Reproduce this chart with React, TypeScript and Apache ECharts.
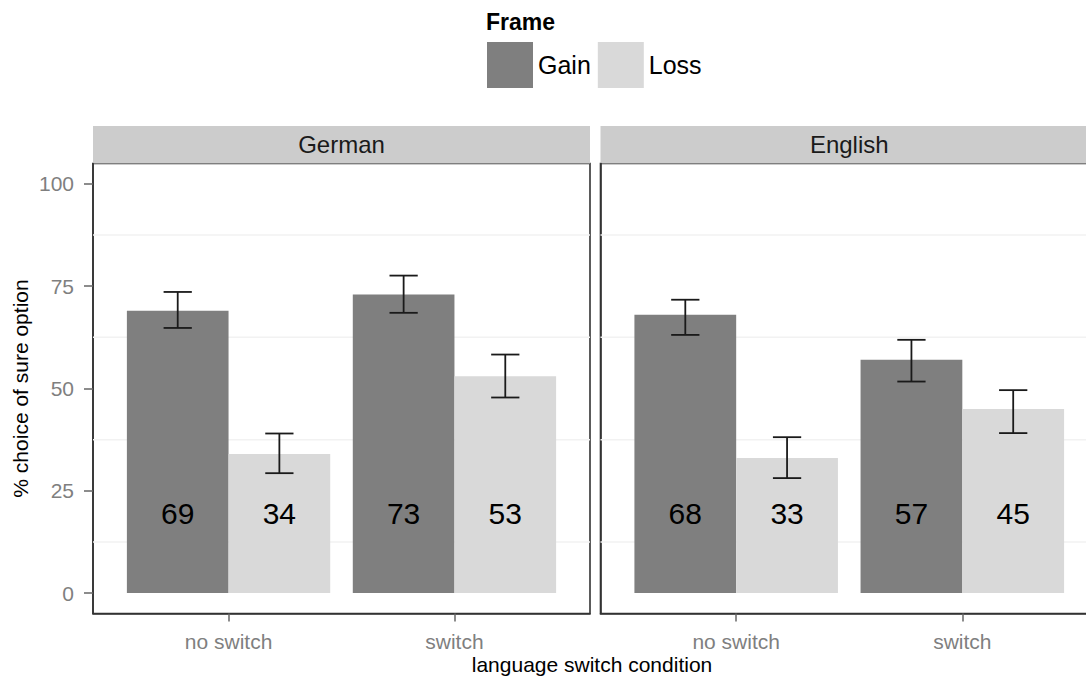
import React, { useEffect, useRef } from "react";
import * as echarts from "echarts";

// Conditions on the x axis and the two frames
const categories = ["no switch", "switch"];
const frames = ["Gain", "Loss"];
const panels = ["German", "English"];

// % choice of sure option, per panel and frame
const germanGain = [69, 73];
const germanLoss = [34, 53];
const englishGain = [68, 57];
const englishLoss = [33, 45];

// Error bar limits [low, high]
const germanGainErr = [[64.8, 73.6], [68.5, 77.6]];
const germanLossErr = [[29.3, 39.0], [47.8, 58.3]];
const englishGainErr = [[63.1, 71.7], [51.7, 61.9]];
const englishLossErr = [[28.1, 38.1], [39.1, 49.6]];

// Y axis ticks and minor grid lines
const yTicks = [0, 25, 50, 75, 100];
const yMinorGrid = [12.5, 37.5, 62.5, 87.5];

const FONT = "'Liberation Sans', Arial, sans-serif";
const GAIN_COLOR = "#7F7F7F";
const LOSS_COLOR = "#D9D9D9";
const BAR_W = 0.45; // dodge width 0.9 split in two
const CAP_W = 0.125;
const LABEL_Y = 19.5;
const X_POS = categories.map((_, i) => i + 1);

function barSeries(name: string, values: number[], offset: number, color: string, gridIdx: number) {
  return {
    type: "custom",
    name,
    xAxisIndex: gridIdx,
    yAxisIndex: gridIdx,
    z: 3,
    itemStyle: { color },
    data: values.map((v, i) => [X_POS[i], v]),
    renderItem: (_p: any, api: any) => {
      const x = api.value(0) + offset;
      const y = api.value(1);
      const a = api.coord([x - BAR_W / 2, y]);
      const b = api.coord([x + BAR_W / 2, 0]);
      const c = api.coord([x, LABEL_Y]);
      return {
        type: "group",
        children: [
          {
            type: "rect",
            shape: { x: a[0], y: a[1], width: b[0] - a[0], height: b[1] - a[1] },
            style: { fill: color },
          },
          {
            type: "text",
            x: c[0],
            y: c[1],
            style: {
              text: String(y),
              align: "center",
              verticalAlign: "middle",
              fontSize: 30,
              fontFamily: FONT,
              fill: "#000000",
            },
          },
        ],
      };
    },
  };
}

function errorSeries(errs: number[][], offset: number, gridIdx: number) {
  return {
    type: "custom",
    xAxisIndex: gridIdx,
    yAxisIndex: gridIdx,
    z: 4,
    silent: true,
    data: errs.map((e, i) => [X_POS[i], e[0], e[1]]),
    renderItem: (_p: any, api: any) => {
      const x = api.value(0) + offset;
      const lo = api.coord([x, api.value(1)]);
      const hi = api.coord([x, api.value(2)]);
      const l = api.coord([x - CAP_W / 2, 0])[0];
      const r = api.coord([x + CAP_W / 2, 0])[0];
      const st = { stroke: "#1A1A1A", lineWidth: 1.8 };
      return {
        type: "group",
        children: [
          { type: "line", shape: { x1: lo[0], y1: lo[1], x2: hi[0], y2: hi[1] }, style: st },
          { type: "line", shape: { x1: l, y1: lo[1], x2: r, y2: lo[1] }, style: st },
          { type: "line", shape: { x1: l, y1: hi[1], x2: r, y2: hi[1] }, style: st },
        ],
      };
    },
  };
}

function gridLineSeries(gridIdx: number) {
  return {
    type: "custom",
    xAxisIndex: gridIdx,
    yAxisIndex: gridIdx,
    z: 1,
    silent: true,
    data: yMinorGrid.map((v) => [1.5, v]),
    renderItem: (_p: any, api: any) => {
      const a = api.coord([0.4, api.value(1)]);
      const b = api.coord([2.6, api.value(1)]);
      return {
        type: "line",
        shape: { x1: a[0], y1: a[1], x2: b[0], y2: b[1] },
        style: { stroke: "#F2F2F2", lineWidth: 1.5 },
      };
    },
  };
}

const PANEL_TOP = 163.5;
const PANEL_H = 450;
const PANEL_LEFT = [93, 600.5];
const PANEL_W = [497, 497.5];
const STRIP_TOP = 126;

export default function App() {
  const ref = useRef<HTMLDivElement>(null);

  useEffect(() => {
    if (!ref.current) return;
    const chart = echarts.init(ref.current, undefined, { renderer: "svg" });

    const xAxes = [0, 1].map((g) => ({
      type: "value",
      gridIndex: g,
      min: 0.4,
      max: 2.6,
      axisLine: { show: true, onZero: false, lineStyle: { color: "#333333", width: 1.6 } },
      splitLine: { show: false },
      axisTick: {
        show: true,
        customValues: X_POS,
        length: 8,
        lineStyle: { color: "#666666", width: 1.5 },
      },
      axisLabel: {
        customValues: X_POS,
        formatter: (v: number) => categories[Math.round(v) - 1] ?? "",
        color: "#7F7F7F",
        fontSize: 21,
        fontFamily: FONT,
        margin: 17,
      },
    }));

    const yAxes = [0, 1].map((g) => ({
      type: "value",
      gridIndex: g,
      min: -5,
      max: 105,
      axisLine: { show: true, onZero: false, lineStyle: { color: "#333333", width: 1.6 } },
      splitLine: { show: false },
      axisTick: {
        show: g === 0,
        customValues: yTicks,
        length: 9,
        lineStyle: { color: "#666666", width: 1.5 },
      },
      axisLabel: {
        show: g === 0,
        customValues: yTicks,
        color: "#7F7F7F",
        fontSize: 21,
        fontFamily: FONT,
        margin: 19,
      },
      name: g === 0 ? "% choice of sure option" : "",
      nameLocation: "middle",
      nameGap: 62,
      nameRotate: 90,
      nameTextStyle: { fontSize: 21, fontFamily: FONT, color: "#000000" },
    }));

    const strips: any[] = [];
    panels.forEach((p, i) => {
      strips.push({
        type: "rect",
        shape: { x: PANEL_LEFT[i], y: STRIP_TOP, width: PANEL_W[i], height: PANEL_TOP - STRIP_TOP },
        style: { fill: "#CCCCCC" },
      });
      strips.push({
        type: "text",
        x: PANEL_LEFT[i] + PANEL_W[i] / 2,
        y: (STRIP_TOP + PANEL_TOP) / 2,
        style: {
          text: p,
          align: "center",
          verticalAlign: "middle",
          fontSize: 24,
          fontFamily: FONT,
          fill: "#1A1A1A",
        },
      });
    });

    chart.setOption({
      animation: false,
      backgroundColor: "#FFFFFF",
      textStyle: { fontFamily: FONT },
      title: {
        text: "Frame",
        left: 486,
        top: 10,
        padding: 0,
        textStyle: { fontSize: 23, fontWeight: "bold", color: "#000000", fontFamily: FONT },
      },
      legend: {
        data: frames,
        left: 487,
        top: 42,
        padding: 0,
        itemWidth: 46,
        itemHeight: 46,
        itemGap: 7,
        icon: "rect",
        selectedMode: false,
        textStyle: { fontSize: 25, color: "#000000", fontFamily: FONT },
      },
      grid: [0, 1].map((g) => ({
        left: PANEL_LEFT[g],
        top: PANEL_TOP,
        width: PANEL_W[g],
        height: PANEL_H,
        show: true,
        backgroundColor: "#FFFFFF",
        borderColor: "#333333",
        borderWidth: 1.6,
      })),
      xAxis: xAxes,
      yAxis: yAxes,
      graphic: [
        ...strips,
        {
          type: "text",
          x: 592,
          y: 664,
          style: {
            text: "language switch condition",
            align: "center",
            verticalAlign: "middle",
            fontSize: 21,
            fontFamily: FONT,
            fill: "#000000",
          },
        },
      ],
      series: [
        gridLineSeries(0),
        gridLineSeries(1),
        barSeries(frames[0], germanGain, -BAR_W / 2, GAIN_COLOR, 0),
        barSeries(frames[1], germanLoss, BAR_W / 2, LOSS_COLOR, 0),
        barSeries(frames[0], englishGain, -BAR_W / 2, GAIN_COLOR, 1),
        barSeries(frames[1], englishLoss, BAR_W / 2, LOSS_COLOR, 1),
        errorSeries(germanGainErr, -BAR_W / 2, 0),
        errorSeries(germanLossErr, BAR_W / 2, 0),
        errorSeries(englishGainErr, -BAR_W / 2, 1),
        errorSeries(englishLossErr, BAR_W / 2, 1),
      ],
    });

    return () => chart.dispose();
  }, []);

  // The chart canvas is a little wider than the visible frame, so the
  // right-hand panel runs off the edge.
  return (
    <div
      style={{
        position: "fixed",
        left: 0,
        top: 0,
        width: 1086,
        height: 682,
        overflow: "hidden",
        background: "#FFFFFF",
      }}
    >
      <div ref={ref} style={{ width: 1112, height: 682 }} />
    </div>
  );
}
